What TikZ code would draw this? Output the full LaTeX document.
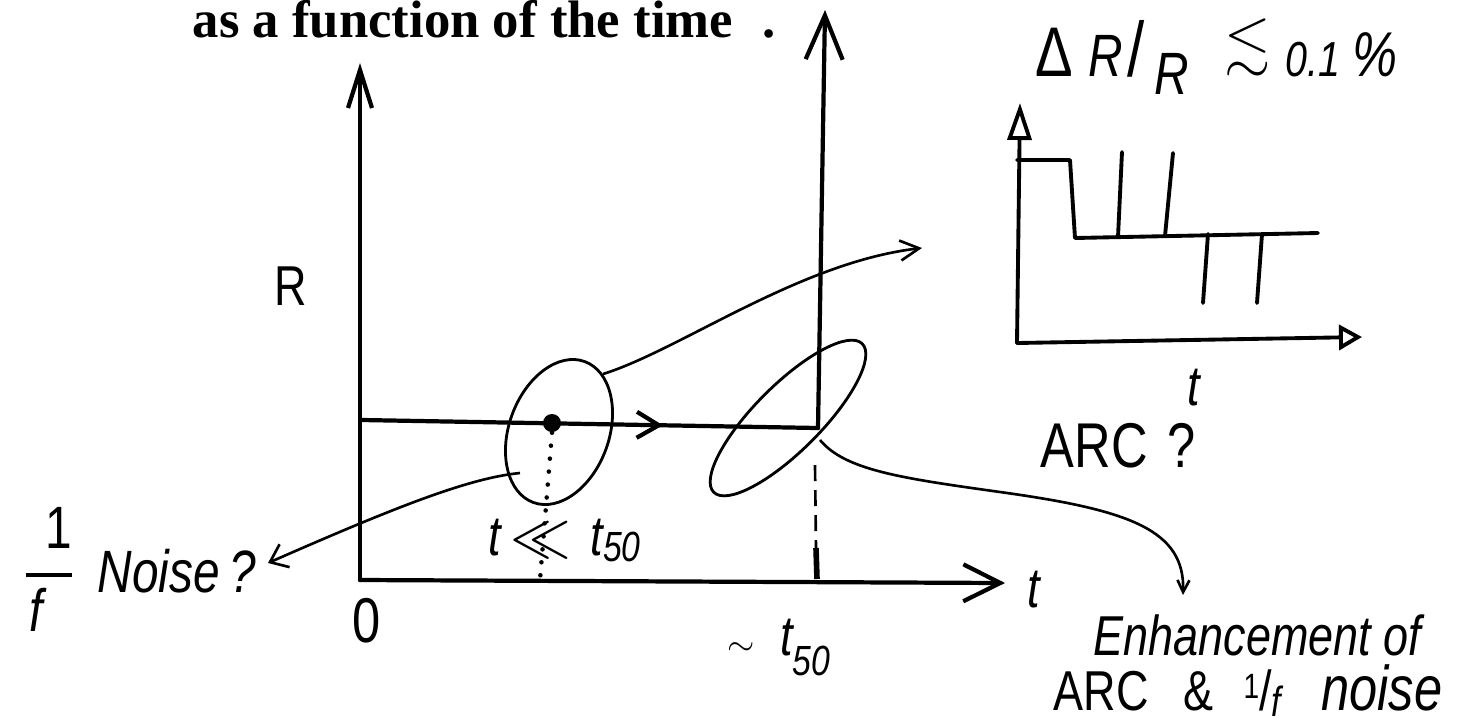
\documentclass[tikz,border=0pt]{standalone}
\usepackage{amsmath,amssymb}
\usepackage{fontspec}
\usepackage{tikz}
\usetikzlibrary{arrows.meta,shapes.geometric,decorations.markings}
\newfontfamily\handfont[FakeStretch=0.8]{Liberation Sans}
\newfontfamily\titlefont{Liberation Serif}
\tikzset{
    axis/.style={
        line width=1.2pt,
        line cap=round
    },
    curve/.style={
        line width=0.75pt
    },
    blob/.style={
        draw,
        ellipse,
        line width=0.8pt,
        inner sep=0pt
    },
    signal/.style={
        line width=1.1pt,
        line cap=round,
        line join=round
    },
    hand/.style={
        font=\handfont\fontsize{16}{19}\selectfont,
        inner sep=0pt
    },
    handit/.style={
        font=\handfont\itshape\fontsize{16}{19}\selectfont,
        inner sep=0pt
    }
}

\begin{document}
\begin{tikzpicture}[x=0.1mm,y=-0.1mm]

    \useasboundingbox (0,0) rectangle (1479,720);

    % Titre
    \node[
        font=\titlefont\bfseries\fontsize{15}{18}\selectfont,
        anchor=base west,
        inner sep=0pt
    ] (title)
        at (192,37)
        {as a function of the time\hspace{0.55em}.};

    % Axes
    \coordinate (o) at (360,580);
    \coordinate (ytop) at (360,63);
    \coordinate (xtip) at (1005,583);

    \draw[axis,-{Straight Barb[length=3.8mm,width=2.4mm]}]
        (o) -- (ytop);

    \draw[axis,-{Straight Barb[length=3.7mm,width=3.7mm]}]
        (o) -- (xtip);

    % R(t)
    \coordinate (r0) at (362,420);
    \coordinate (r1) at (818,428);
    \coordinate (rtop) at (825,10);

    \draw[
        axis,
        postaction={decorate},
        decoration={markings,
            mark=at position 0.66 with {\arrow{Straight Barb[length=2.2mm,width=2.6mm]}}}
    ]
        (r0) -- (r1);

    \draw[axis,-{Straight Barb[length=4.4mm,width=3.7mm]}]
        (r1) -- (rtop);

    % Ellipses
    \node[blob,minimum width=10mm,minimum height=15mm,rotate=-20] (e1)
        at (559,432) {};

    \node[blob,minimum width=21mm,minimum height=6.6mm,rotate=45] (e2)
        at (788,418) {};

    % Point
    \node[circle,fill,inner sep=0pt,minimum size=1.8mm] (pt)
        at (552,423) {};

    \coordinate (pfoot) at (540,580);
    \draw[line width=1.3pt,line cap=round,dash pattern=on 0pt off 1.3mm]
        (pt.south) -- (pfoot);

    % t50
    \coordinate (d0) at (815,465);
    \coordinate (d1) at (816,548);
    \coordinate (d2) at (817,579);
    \draw[curve,dash pattern=on 1.6mm off 0.9mm]
        (d0) -- (d1);
    \draw[line width=1.6pt]
        (d1) -- (d2);

    % Fleches
    \coordinate (c1) at (603,374);
    \coordinate (c1tip) at (922,248);
    \coordinate (c2) at (520,473);
    \coordinate (c2tip) at (268,563);
    \coordinate (c3) at (820,440);
    \coordinate (c3mid) at (1000,492);
    \coordinate (c3tip) at (1183,595);

    \draw[curve,-{Straight Barb[length=1.9mm,width=2mm]}]
        (c1) .. controls (680,350) and (800,262) .. (c1tip);

    \draw[curve,-{Straight Barb[length=1.6mm,width=2.5mm]}]
        (c2) .. controls (470,478) and (400,505) .. (c2tip);

    \draw[curve,-{Straight Barb[length=1.2mm,width=1.2mm]}]
        (c3) .. controls (845,470) and (900,478) .. (c3mid)
        .. controls (1130,510) and (1185,530) .. (c3tip);

    % Encart
    \coordinate (io) at (1017,343);
    \coordinate (iytip) at (1020,103);
    \coordinate (ixtip) at (1362,337);

    \draw[signal,-{Triangle[open,length=3.7mm,width=2.4mm]}]
        (io) -- (iytip);
    \draw[signal,-{Triangle[open,length=2.3mm,width=2.5mm]}]
        (io) -- (ixtip);

    \draw[signal]
        (1017,160) -- (1070,160) -- (1075,238) -- (1318,233);

    % Pics
    \draw[signal] (1118,237) -- (1122,152);
    \draw[signal] (1165,236) -- (1173,153);
    \draw[signal] (1208,234) -- (1203,303);
    \draw[signal] (1262,234) -- (1257,303);

    % R
    \node[hand,anchor=base east] (rlab)
        at (308,305)
        {R};

    % 0
    \node[
        hand,
        font=\handfont\fontsize{18}{21}\selectfont,
        anchor=base
    ] (zero)
        at (367,642)
        {0};

    % t
    \node[handit,anchor=base west] (tlab)
        at (1027,607)
        {t};

    % ~ t50
    \node[handit,anchor=base west] (t50)
        at (727,655)
        {{\fontsize{10}{10}\selectfont$\sim$}\hspace{2.5mm}t\raisebox{-2mm}{\fontsize{12}{12}\selectfont 50}};

    % t << t50
    \node[handit,anchor=base west] (tll)
        at (488,555)
        {t\,$\ll$\,\hspace{1mm}t\raisebox{-0.6mm}{\fontsize{12}{12}\selectfont 50}};

    % 1/f
    \node[
        hand,
        font=\handfont\fontsize{17}{20}\selectfont,
        anchor=base
    ] (frac)
        at (49,590)
        {$\genfrac{}{}{1pt}{0}{\hbox{\kern2mm 1}}{\hbox{\itshape f\kern2.5mm}}$};

    % Noise
    \node[
        handit,
        font=\handfont\itshape\fontsize{17}{20}\selectfont,
        anchor=base west
    ] (noise)
        at (97,592)
        {Noise\,?};

    % Enhancement
    \node[handit,anchor=base west] (enh)
        at (1093,655)
        {Enhancement of};

    \node[hand,anchor=base west] (enh2)
        at (1053,710)
        {ARC\hspace{3.5mm}\&\hspace{3mm}\raisebox{1.2mm}{\fontsize{10}{10}\selectfont 1}/\raisebox{-0.6mm}{\fontsize{12}{12}\selectfont\itshape f}\hspace{4mm}{\itshape\fontsize{18}{20}\selectfont noise}};

    % ARC ?
    \node[
        hand,
        font=\handfont\fontsize{18}{21}\selectfont,
        anchor=base west
    ] (arc)
        at (1040,467)
        {ARC\hspace{2mm}?};

    % t encart
    \node[handit,anchor=base west] (tin)
        at (1187,405)
        {t};

    % Delta R / R
    \node[
        hand,
        font=\handfont\fontsize{17}{20}\selectfont,
        anchor=base west
    ] (dr)
        at (1035,76)
        {{\fontsize{20}{22}\selectfont Δ}\hspace{1.5mm}{\itshape R}\hspace{0.5mm}{\fontsize{22}{24}\selectfont/}\hspace{1mm}\raisebox{-1.8mm}{\itshape R}\hspace{3.5mm}\raisebox{1.4mm}{$\lesssim$}\hspace{1.5mm}{\itshape\fontsize{14}{16}\selectfont 0.1}\hspace{1.2mm}{\itshape\fontsize{18}{20}\selectfont\%}};

\end{tikzpicture}
\end{document}
